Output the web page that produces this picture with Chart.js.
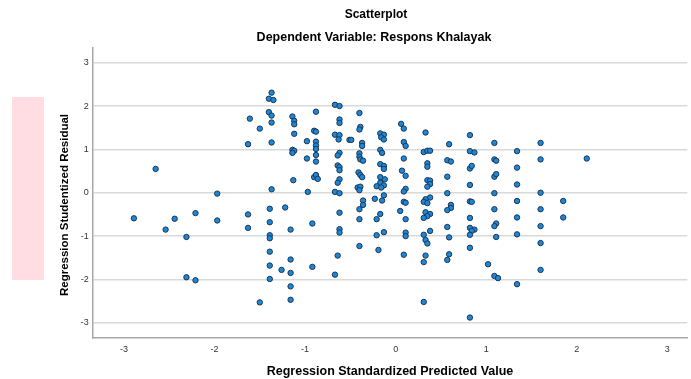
<!DOCTYPE html>
<html>
<head>
<meta charset="utf-8">
<title>Scatterplot</title>
<script src="https://cdn.jsdelivr.net/npm/chart.js@4"></script>
<style>
  html, body { margin: 0; padding: 0; background: #fff; }
  #wrap { width: 691px; height: 379px; }
</style>
</head>
<body>
<div id="wrap"><canvas id="scatter" width="691" height="379"></canvas></div>
<script>
// -------------------------------------------------------------
// Data
// -------------------------------------------------------------
const chartTitle = 'Scatterplot';
const chartSubtitle = 'Dependent Variable: Respons Khalayak';
const xAxisTitle = 'Regression Standardized Predicted Value';
const yAxisTitle = 'Regression Studentized Residual';

const xTicks = [-3, -2, -1, 0, 1, 2, 3];
const yTicks = [-3, -2, -1, 0, 1, 2, 3];

// standardized predicted value (x)
const predicted = [
  -1.37, -1.40, -1.35, -1.40, -1.37, -1.61, -1.37, -1.50, -1.63, -1.37,
  -1.14, -1.12, -1.12, -1.12, -1.14, -1.12, -1.14, -1.13, -1.37,
  -2.65, -1.97, -2.89, -2.44, -2.54, -2.21, -2.31, -1.97, -1.63, -1.63,
  -1.39, -1.22, -1.39, -1.39, -1.39, -1.16, -1.39, -1.39, -1.16, -1.26,
  -1.16, -2.31, -2.21, -1.39, -1.16, -1.16, -1.50,
  -0.98, -0.98, -0.97, -0.92, -0.92,
  -0.88, -0.90, -0.88, -0.88, -0.88, -0.88, -0.88, -0.88, -0.90, -0.88, -0.86,
  -0.67, -0.62, -0.62, -0.62, -0.67, -0.62, -0.63, -0.62, -0.64, -0.64,
  -0.62, -0.62, -0.62, -0.64, -0.67, -0.62, -0.62, -0.62, -0.62, -0.64, -0.67,
  -0.51, -0.49,
  -0.40, -0.39, -0.40, -0.37, -0.37, -0.40, -0.40, -0.39, -0.36, -0.41,
  -0.39, -0.37, -0.42, -0.39, -0.40, -0.36, -0.36, -0.40, -0.40, -0.40,
  -0.17, -0.13, -0.16, -0.13, -0.17, -0.15, -0.17, -0.13, -0.13, -0.17,
  -0.12, -0.17, -0.13, -0.21, -0.16, -0.13, -0.23, -0.15, -0.17, -0.21,
  -0.13, -0.21, -0.19,
  0.06, 0.09, 0.09, 0.11, 0.09, 0.07, 0.11, 0.11, 0.09, 0.09,
  0.11, 0.05, 0.11, 0.11, 0.11, 0.09,
  0.33, 0.31, 0.35, 0.38, 0.35, 0.35, 0.35, 0.38, 0.38, 0.35,
  0.38, 0.33, 0.31, 0.35, 0.33, 0.38, 0.35, 0.31, 0.38, 0.31,
  0.33, 0.35, 0.33, 0.31, 0.31,
  0.59, 0.57, 0.61, 0.57, 0.57, 0.61, 0.61, 0.57, 0.57, 0.59, 0.59, 0.57,
  0.82, 0.82, 0.87, 0.82, 0.84, 0.82, 0.82, 0.84, 0.82, 0.82,
  0.87, 0.84, 0.82, 0.82, 0.82,
  1.09, 1.09, 1.11, 1.09, 1.11, 1.09, 1.09, 1.11, 1.09, 1.11, 1.02, 1.09, 1.13,
  1.34, 1.34, 1.34, 1.34, 1.34, 1.34, 1.34,
  1.60, 1.60, 1.60, 1.60, 1.60, 1.60, 1.60,
  2.11, 1.85, 1.85
];

// studentized residual (y)
const residuals = [
  2.31, 2.17, 2.14, 1.86, 1.78, 1.71, 1.62, 1.48, 1.12, 1.16,
  1.76, 1.66, 1.58, 1.36, 0.99, 0.97, 0.92, 0.29, 0.08,
  0.55, -0.02, -0.59, -0.60, -0.85, -0.47, -1.02, -0.64, -0.50, -0.81,
  -0.37, -0.34, -0.68, -0.98, -1.05, -0.85, -1.36, -1.68, -1.54, -1.78,
  -1.85, -1.95, -2.02, -1.99, -2.16, -2.47, -2.53,
  1.19, 0.79, 0.02, -0.71, -1.71,
  1.87, 1.43, 1.41, 1.18, 1.09, 1.01, 0.87, 0.72, 0.36, 0.41, 0.32,
  2.03, 2.00, 1.69, 1.61, 1.34, 1.33, 1.23, 0.92, 0.86, 0.63,
  0.59, 0.52, 0.31, 0.23, 0.02, -0.01, -0.46, -0.84, -0.92, -1.45, -1.89,
  1.22, 1.22,
  1.84, 1.52, 1.46, 1.15, 1.08, 0.91, 0.83, 0.77, 0.74, 0.47,
  0.41, 0.36, 0.12, 0.14, 0.06, -0.18, -0.28, -0.38, -0.61, -1.23,
  1.37, 1.34, 1.28, 1.23, 0.99, 0.92, 0.66, 0.62, 0.55, 0.36,
  0.31, 0.23, 0.17, 0.15, 0.12, -0.06, -0.14, -0.18, -0.49, -0.61,
  -0.91, -0.98, -1.32,
  1.59, 1.48, 1.17, 1.08, 0.79, 0.51, 0.39, 0.09, 0.03, -0.21,
  -0.23, -0.42, -0.61, -0.92, -1.00, -1.43,
  1.39, 0.94, 0.97, 0.97, 0.68, 0.60, 0.29, 0.28, 0.20, 0.14,
  -0.11, -0.15, -0.21, -0.24, -0.45, -0.49, -0.54, -0.58, -0.88, -0.97,
  -1.09, -1.17, -1.45, -1.60, -2.52,
  1.12, 0.75, 0.72, 0.37, -0.01, -0.28, -0.35, -0.40, -0.79, -1.03, -1.42, -1.55,
  1.33, 0.96, 0.93, 0.56, 0.62, 0.18, -0.20, -0.21, -0.58, -0.81,
  -0.85, -0.88, -0.97, -1.27, -2.88,
  1.15, 0.77, 0.74, 0.37, 0.43, -0.01, -0.38, -0.71, -0.77, -1.02, -1.65, -1.92, -1.97,
  0.96, 0.58, 0.19, -0.19, -0.57, -0.96, -2.11,
  1.15, 0.77, 0.00, -0.38, -0.77, -1.16, -1.78,
  0.79, -0.19, -0.57
];

const points = predicted.map((x, i) => ({ x: x, y: residuals[i] }));

const FONT = 'Arial, "Liberation Sans", sans-serif';

// -------------------------------------------------------------
// Titles + pink marker box drawn on the canvas
// -------------------------------------------------------------
const decorPlugin = {
  id: 'decor',
  beforeDraw(chart) {
    const ctx = chart.ctx;
    ctx.save();
    ctx.fillStyle = '#ffdde2';
    ctx.fillRect(12, 97, 32, 183);
    ctx.restore();
  },
  afterDraw(chart) {
    const ctx = chart.ctx;
    ctx.save();
    ctx.fillStyle = '#000';
    ctx.textAlign = 'center';
    ctx.textBaseline = 'middle';
    ctx.font = 'bold 12px ' + FONT;
    ctx.fillText(chartTitle, 376, 15);
    ctx.font = 'bold 12.5px ' + FONT;
    ctx.fillText(chartSubtitle, 374, 38);

    ctx.translate(65, 205);
    ctx.rotate(-Math.PI / 2);
    ctx.font = 'bold 11.5px ' + FONT;
    ctx.fillText(yAxisTitle, 0, 0);
    ctx.restore();
  }
};

const ctx = document.getElementById('scatter').getContext('2d');

new Chart(ctx, {
  type: 'scatter',
  data: {
    datasets: [{
      data: points,
      backgroundColor: '#1b87d9',
      borderColor: '#1e3650',
      borderWidth: 1,
      pointRadius: 2.7,
      pointHoverRadius: 2.7
    }]
  },
  options: {
    responsive: false,
    animation: false,
    devicePixelRatio: 1,
    layout: { padding: { top: 48, left: 0, right: 0, bottom: 0 } },
    plugins: {
      legend: { display: false },
      tooltip: { enabled: false }
    },
    scales: {
      x: {
        type: 'linear',
        min: -3.345,
        max: 3.22,
        afterBuildTicks: (s) => { s.ticks = xTicks.map(v => ({ value: v })); },
        afterFit: (s) => { s.height = 41.5; },
        grid: { display: true, drawOnChartArea: false, drawTicks: false },
        border: { display: true, color: '#a8a8a8', width: 1.5 },
        ticks: {
          color: '#333',
          font: { size: 9, family: FONT },
          padding: 7,
          maxRotation: 0,
          autoSkip: false
        },
        title: {
          display: true,
          text: xAxisTitle,
          color: '#000',
          font: { size: 12.5, weight: 'bold', family: FONT },
          padding: 0
        }
      },
      y: {
        type: 'linear',
        min: -3.34,
        max: 3.34,
        afterBuildTicks: (s) => { s.ticks = yTicks.map(v => ({ value: v })); },
        afterFit: (s) => { s.width = 92.7; },
        grid: { color: '#d9d9d9', lineWidth: 1.5, drawTicks: false },
        border: { display: true, color: '#a8a8a8', width: 1.5 },
        ticks: {
          color: '#333',
          font: { size: 9, family: FONT },
          padding: 4
        }
      }
    }
  },
  plugins: [decorPlugin]
});
</script>
</body>
</html>
